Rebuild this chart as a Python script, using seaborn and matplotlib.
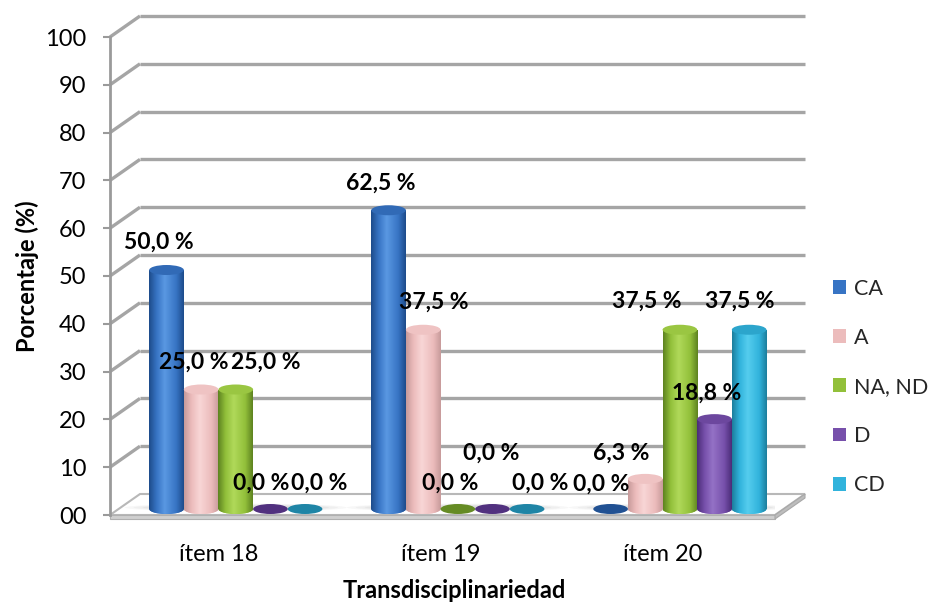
import numpy as np
import pandas as pd
import seaborn as sns
import matplotlib.pyplot as plt
from matplotlib.patches import Ellipse, Polygon
from matplotlib.colors import LinearSegmentedColormap, to_rgb
from matplotlib.transforms import offset_copy

# ---- data -------------------------------------------------------------
items = ["ítem 18", "ítem 19", "ítem 20"]
series = ["CA", "A", "NA, ND", "D", "CD"]
ca = [50.0, 62.5, 0.0]
a_vals = [25.0, 37.5, 6.3]
na_nd = [25.0, 0.0, 37.5]
d_vals = [0.0, 0.0, 18.8]
cd = [0.0, 0.0, 37.5]
y_ticks = list(range(0, 101, 10))
y_tick_labels = ["00"] + [str(t) for t in y_ticks[1:]]

values = {"CA": ca, "A": a_vals, "NA, ND": na_nd, "D": d_vals, "CD": cd}
df = pd.DataFrame(
    [(it, s, values[s][i]) for s in series for i, it in enumerate(items)],
    columns=["item", "serie", "pct"],
)

# cylinder shading per series: (edge shadow, body, highlight)
shades = {
    "CA": ("#1d4b8a", "#3774c4", "#5a98e2"),
    "A": ("#c79a9a", "#ecbcbc", "#f8d6d6"),
    "NA, ND": ("#5d8220", "#92c03a", "#b0d95a"),
    "D": ("#4a2c77", "#7750ab", "#9472c6"),
    "CD": ("#1c7d9c", "#31b3dc", "#55cdee"),
}
palette = {s: shades[s][1] for s in series}

# pixel offsets (right, up) of each value label from the top of its bar
label_offsets = {
    "CA": [(-8, 28), (-8, 27), (-9, 25)],
    "A": [(-7, 27), (11, 28), (-24, 26)],
    "NA, ND": [(30, 27), (-8, 26), (-33, 29)],
    "D": [(-9, 26), (-1, 56), (-8, 26)],
    "CD": [(14, 26), (13, 26), (-9, 29)],
}

# ---- figure -----------------------------------------------------------
sns.set_theme(style="white")
plt.rcParams["font.family"] = ["Lato", "DejaVu Sans"]
FS = 17
FS_VAL = 16.5
FS_LEG = 15.5

W, H = 934, 602
fig = plt.figure(figsize=(W / 100, H / 100), dpi=100)
fig.patch.set_facecolor("white")
L, R, T, B = 110, 775, 37, 515
ax = fig.add_axes([L / W, 1 - B / H, (R - L) / W, (B - T) / H])
ax.set_facecolor("none")
XMIN, XMAX = -0.49, 2.505
px_x = (R - L) / (XMAX - XMIN)
px_y = (B - T) / 100.0

sns.barplot(
    data=df, x="item", y="pct", hue="serie", hue_order=series, order=items,
    palette=palette, width=0.78, saturation=1, errorbar=None, ax=ax,
    edgecolor="none", linewidth=0, zorder=4,
)
ax.set_xlim(XMIN, XMAX)
ax.set_ylim(0, 100)

# depth offsets: bars sit mid-depth, grid lines on the back wall
bar_tr = offset_copy(ax.transData, fig=fig, x=17, y=6, units="dots")
back_tr = offset_copy(ax.transData, fig=fig, x=30, y=21, units="dots")
DX, DY = 30 / px_x, 21 / px_y

grid_c = "#a5a5a5"
for t in y_ticks[1:]:
    ax.plot([XMIN, XMAX], [t, t], transform=back_tr, color=grid_c, lw=2.4,
            zorder=1, clip_on=False, solid_capstyle="butt")
    ax.plot([XMIN, XMIN + DX], [t, t + DY], color=grid_c, lw=2.4,
            zorder=1, clip_on=False, solid_capstyle="butt")

# floor slab
slab = 4 / px_y
floor_top = Polygon([(XMIN, 0), (XMAX, 0), (XMAX + DX, DY), (XMIN + DX, DY)],
                    closed=True, facecolor="white", edgecolor="#b8b8b8",
                    lw=1.5, zorder=2, clip_on=False)
floor_front = Polygon([(XMIN, 0), (XMAX, 0), (XMAX, -slab), (XMIN, -slab)],
                      closed=True, facecolor="#cfcfcf", edgecolor="#b0b0b0",
                      lw=0.8, zorder=2, clip_on=False)
floor_side = Polygon([(XMAX, 0), (XMAX + DX, DY), (XMAX + DX, DY - slab),
                      (XMAX, -slab)], closed=True, facecolor="#bdbdbd",
                     edgecolor="#a8a8a8", lw=0.8, zorder=2, clip_on=False)
for p in (floor_top, floor_front, floor_side):
    ax.add_patch(p)

# soft shadows on the floor around each group
for i in range(len(items)):
    for k, alpha in enumerate((0.05, 0.06, 0.07, 0.08)):
        sh = Ellipse((i + 0.0, 0.3), 1.0 - k * 0.08, 8 / px_y - k * 0.3,
                     transform=bar_tr, facecolor="#707070", alpha=alpha,
                     edgecolor="none", zorder=2.5)
        ax.add_patch(sh)

# cylinder bodies, bases and tops
grad = np.linspace(0, 1, 256).reshape(1, -1)
ell_h = 10 / px_y
for s, cont in zip(series, ax.containers):
    dark, body, light = (to_rgb(c) for c in shades[s])
    cmap = LinearSegmentedColormap.from_list(
        s, [(0, dark), (0.22, body), (0.45, light), (0.78, body), (1, dark)])
    for j, bar in enumerate(cont):
        x0, w, h = bar.get_x(), bar.get_width(), bar.get_height()
        xc = x0 + w / 2
        bar.set_transform(bar_tr)
        if h > 0:
            base = Ellipse((xc, 0), w, ell_h, transform=bar_tr,
                           facecolor=body, edgecolor="none", zorder=3)
            ax.add_patch(base)
            for clip, z in ((base, 3.1), (bar, 4.1)):
                im = ax.imshow(grad, cmap=cmap, aspect="auto",
                               extent=[x0, x0 + w, -ell_h, h],
                               transform=bar_tr, zorder=z,
                               interpolation="bilinear")
                im.set_clip_path(clip)
            top_c = tuple(0.75 * np.array(body) + 0.25 * np.array(dark))
            if s in ("A", "NA, ND"):
                top_c = tuple(0.75 * np.array(body) + 0.25 * np.array(light))
        else:
            top_c = tuple(0.85 * np.array(dark) + 0.15 * np.array(body))
        ax.add_patch(Ellipse((xc, h), w, ell_h, transform=bar_tr,
                             facecolor=top_c, edgecolor="none", zorder=4.3))

        dxp, dyp = label_offsets[s][j]
        txt = f"{h:.1f}".replace(".", ",") + " %"
        ax.annotate(txt, xy=(xc, h), xycoords=bar_tr,
                    xytext=(dxp * 0.72, dyp * 0.72), textcoords="offset points",
                    ha="center", va="center", fontsize=FS_VAL,
                    fontweight="bold", color="black", zorder=6,
                    annotation_clip=False)

ax.set_xlim(XMIN, XMAX)
ax.set_ylim(0, 100)

# front axis
for side in ("top", "right", "bottom"):
    ax.spines[side].set_visible(False)
ax.spines["left"].set_color("#9a9a9a")
ax.spines["left"].set_linewidth(2)
ax.set_yticks(y_ticks, y_tick_labels)
ax.tick_params(axis="y", left=True, length=5, width=1.5, color="#9a9a9a",
               pad=12, labelsize=FS, labelcolor="black")
ax.tick_params(axis="x", bottom=False, length=0, pad=21, labelsize=FS,
               labelcolor="black")

ax.set_ylabel("Porcentaje (%)", fontsize=FS, fontweight="bold", color="black")
ax.yaxis.set_label_coords((39 - L) / (R - L), 0.5)
ax.set_xlabel("Transdisciplinariedad", fontsize=FS, fontweight="bold",
              color="black")
ax.xaxis.set_label_coords((454 - L) / (R - L), (B - 579) / (B - T))

sns.move_legend(
    ax, "center left", bbox_to_anchor=(833 / W, 1 - 387 / H),
    bbox_transform=fig.transFigure, frameon=False, title=None,
    fontsize=FS_LEG, handlelength=0.62, handleheight=0.62,
    handletextpad=0.35, labelspacing=1.35, borderpad=0, borderaxespad=0,
)

fig.savefig("out.png", dpi=100, facecolor="white")
